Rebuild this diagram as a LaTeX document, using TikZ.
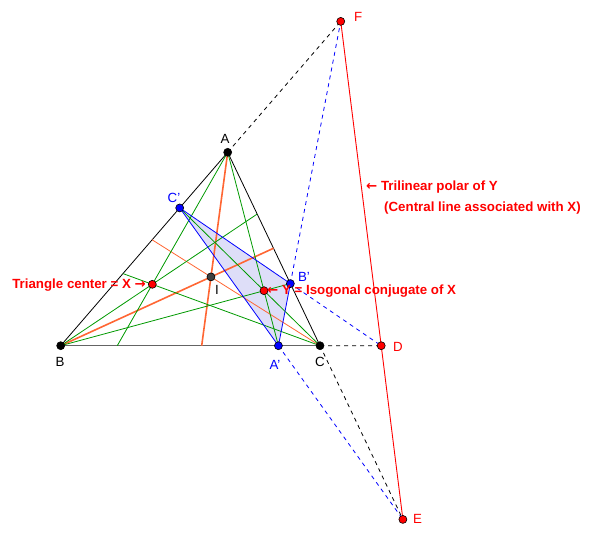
\documentclass[tikz,border=0pt]{standalone}
\usepackage{fontspec}
\setmainfont{Liberation Sans}
\newfontfamily\arrowfont{DejaVu Sans}
\definecolor{grn}{RGB}{0,153,0}
\definecolor{org}{RGB}{255,102,51}
\definecolor{fillb}{RGB}{222,222,248}
\definecolor{dgray}{RGB}{64,64,64}
\definecolor{bcgray}{RGB}{100,100,100}
\newcommand{\rarr}{{\arrowfont\bfseries →}}
\newcommand{\larr}{{\arrowfont\bfseries ←}}
\begin{document}
\begin{tikzpicture}[x=1pt,y=-1pt,
  dot/.style={circle,draw=black,line width=0.6pt,inner sep=0pt,minimum size=8pt},
  lbl/.style={font=\fontsize{13.3}{15}\selectfont,inner sep=0pt},
  blbl/.style={font=\fontsize{13.3}{15}\selectfont\bfseries,text=red,inner sep=0pt},
  greenline/.style={draw=grn,line width=0.8pt},
  orthick/.style={draw=org,line width=1.6pt},
  orthin/.style={draw=org,line width=0.8pt},
  dashline/.style={line width=0.8pt,dash pattern=on 4pt off 4pt}]
\useasboundingbox (0,0) rectangle (600,540);
\coordinate (A) at (227.7,152.3);
\coordinate (B) at (60.7,345.7);
\coordinate (C) at (320,345.7);
\coordinate (X) at (barycentric cs:A=0.3175,B=0.5337,C=0.1488);
\coordinate (Y) at (264,290.7);
\coordinate (I) at (barycentric cs:A=2.593,B=2.143,C=2.555);
\coordinate (Ap) at (intersection of A--Y and B--C);
\coordinate (Bp) at (intersection of B--Y and C--A);
\coordinate (Cp) at (intersection of C--Y and A--B);
\coordinate (Xa) at (intersection of A--X and B--C);
\coordinate (Xb) at (intersection of B--X and C--A);
\coordinate (Xc) at (intersection of C--X and A--B);
\coordinate (Ia) at (intersection of A--I and B--C);
\coordinate (Ib) at (intersection of B--I and C--A);
\coordinate (Ic) at (intersection of C--I and A--B);
\coordinate (D) at (intersection of B--C and Bp--Cp);
\coordinate (E) at (intersection of C--A and Ap--Cp);
\coordinate (F) at (intersection of A--B and Ap--Bp);
% filled triangle
\fill[fillb] (Ap) -- (Bp) -- (Cp) -- cycle;
% triangle sides
\draw[black,line width=0.8pt] (B) -- (A) -- (C);
\draw[bcgray,line width=1.5pt] (B) -- (C);
% dashed extensions
\draw[black,dashline] (A) -- (F);
\draw[black,dashline] (C) -- (D);
\draw[black,dashline] (C) -- (E);
\draw[blue,dashline] (Bp) -- (F);
\draw[blue,dashline] (Bp) -- (D);
\draw[blue,dashline] (Ap) -- (E);
% orange bisectors
\draw[orthin] (C) -- (Ic);
\draw[orthick] (A) -- (Ia);
\draw[orthick] (B) -- (Ib);
% green cevians
\draw[greenline] (A) -- (Xa);
\draw[greenline] (B) -- (Xb);
\draw[greenline] (C) -- (Xc);
\draw[greenline] (A) -- (Ap);
\draw[greenline] (B) -- (Bp);
\draw[greenline] (C) -- (Cp);
% blue triangle
\draw[blue,line width=0.8pt] (Ap) -- (Bp) -- (Cp) -- cycle;
% trilinear polar
\draw[red,line width=0.9pt] (F) -- (E);
% points
\node[dot,fill=black] (nA) at (A) {};
\node[dot,fill=black] (nB) at (B) {};
\node[dot,fill=black] (nC) at (C) {};
\node[dot,fill=dgray] (nI) at (I) {};
\node[dot,fill=red] (nX) at (X) {};
\node[dot,fill=red] (nY) at (Y) {};
\node[dot,fill=blue] (nAp) at (Ap) {};
\node[dot,fill=blue] (nBp) at (Bp) {};
\node[dot,fill=blue] (nCp) at (Cp) {};
\node[dot,fill=red] (nD) at (D) {};
\node[dot,fill=red] (nE) at (E) {};
\node[dot,fill=red] (nF) at (F) {};
% labels
\node[lbl] (tA) at (225,139) {A};
\node[lbl] (tB) at (60,362) {B};
\node[lbl] (tC) at (320,362) {C};
\node[lbl] (tI) at (217,290) {I};
\node[lbl,text=blue] (tCp) at (174,198) {C'};
\node[lbl,text=blue] (tBp) at (304,277) {B'};
\node[lbl,text=blue] (tAp) at (275,365) {A'};
\node[lbl,text=red,anchor=west] (tD) at (393,347) {D};
\node[lbl,text=red,anchor=west] (tE) at (413,519) {E};
\node[lbl,text=red,anchor=west] (tF) at (354,17) {F};
\node[blbl,anchor=east] (tX) at (146,285) {Triangle center = X \rarr};
\node[blbl,anchor=west] (tY) at (267,291) {\larr\ Y = Isogonal conjugate of X};
\node[blbl,anchor=west] (tP1) at (366,187.5) {\larr\ Trilinear polar of Y};
\node[blbl,anchor=west] (tP2) at (384,208) {(Central line associated with X)};
\end{tikzpicture}
\end{document}
